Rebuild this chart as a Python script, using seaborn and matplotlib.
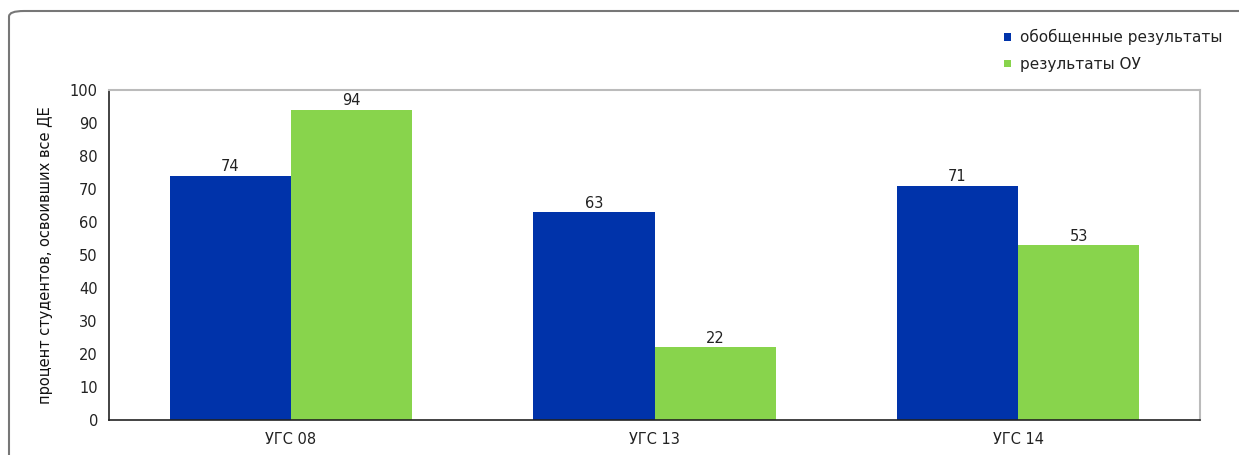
import matplotlib
matplotlib.use("Agg")
import matplotlib.pyplot as plt
from matplotlib.patches import FancyBboxPatch
import seaborn as sns
import pandas as pd

categories = ["УГС 08", "УГС 13", "УГС 14"]
series_names = ["обобщенные результаты", "результаты ОУ"]
values_general = [74, 63, 71]
values_ou = [94, 22, 53]
yticks = [0, 10, 20, 30, 40, 50, 60, 70, 80, 90, 100]

df = pd.DataFrame({
    "cat": categories * 2,
    "series": [series_names[0]] * 3 + [series_names[1]] * 3,
    "val": values_general + values_ou,
})

sns.set_style("white")
plt.rcParams["font.family"] = ["DejaVu Sans"]

fig = plt.figure(figsize=(12.39, 4.55), dpi=100)
ax = fig.add_axes([109 / 1239, 1 - 420 / 455, (1200 - 109) / 1239, (420 - 90) / 455])

palette = {series_names[0]: "#0033AA", series_names[1]: "#88D44C"}
sns.barplot(data=df, x="cat", y="val", hue="series", palette=palette,
            width=0.667, saturation=1, ax=ax, legend=False,
            edgecolor="none", linewidth=0)

for c in ax.containers:
    ax.bar_label(c, labels=[f"{int(v)}" for v in c.datavalues], padding=1,
                 fontsize=10.5, color="#222222")

ax.set_xlim(-0.5, 2.5)
ax.set_ylim(0, 100)
ax.set_yticks(yticks)
ax.set_xlabel("")
ax.set_ylabel("процент студентов, освоивших все ДЕ", fontsize=10.5, color="#111111", labelpad=12)
ax.tick_params(axis="both", which="major", direction="out", length=5, width=1,
               color="#333333", labelsize=10.5, labelcolor="#222222", pad=3)
ax.tick_params(axis="x", length=6)
for s in ["left", "bottom"]:
    ax.spines[s].set_color("#222222")
    ax.spines[s].set_linewidth(1.2)
for s in ["top", "right"]:
    ax.spines[s].set_visible(True)
    ax.spines[s].set_color("#bbbbbb")
    ax.spines[s].set_linewidth(1.5)

# legend
legend_y = [1 - 37 / 455, 1 - 64 / 455]
for name, yy in zip(series_names, legend_y):
    fig.patches.append(plt.Rectangle((1004 / 1239, yy - 3.5 / 455), 7 / 1239, 7 / 455,
                                     transform=fig.transFigure, facecolor=palette[name],
                                     edgecolor="none"))
    fig.text(1020 / 1239, yy, name, fontsize=11, color="#222222", va="center", ha="left")

# outer frame (top and left sides visible, others run off the image)
frame = FancyBboxPatch((9 / 1239, -0.1), 1.2, (0.1 + 1 - 11 / 455),
                       boxstyle="round,pad=0,rounding_size=0.012",
                       transform=fig.transFigure, facecolor="none",
                       edgecolor="#777777", linewidth=1.5, clip_on=False)
fig.patches.append(frame)

fig.savefig("out.png", dpi=100)
